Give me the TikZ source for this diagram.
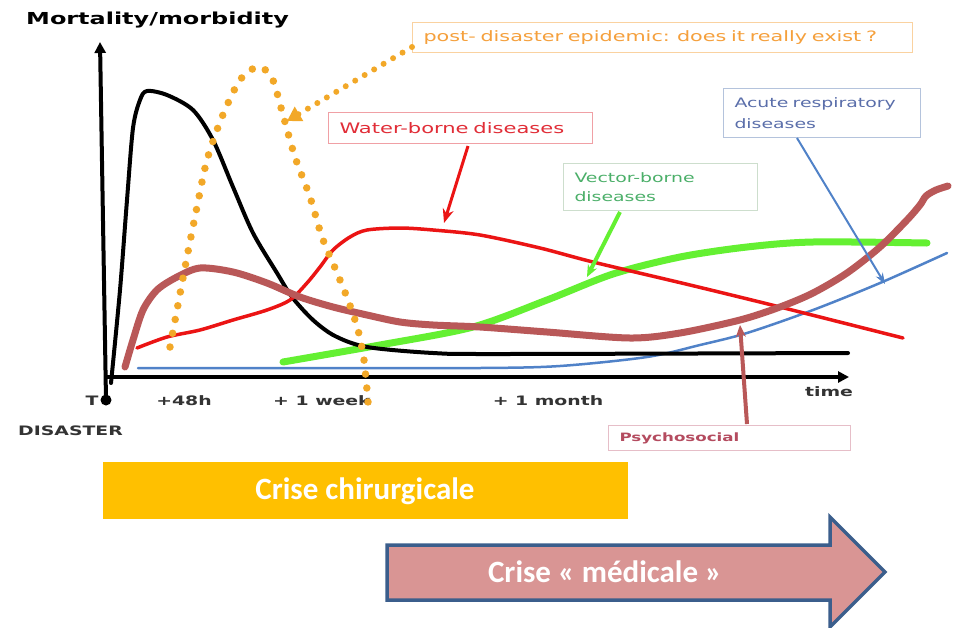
\documentclass[tikz,border=0pt]{standalone}
\usepackage{fontspec}
\newfontfamily\labfont[FakeStretch=1.45]{DejaVu Sans}
\newfontfamily\crisefont{Carlito}
\usetikzlibrary{arrows.meta}
\definecolor{orangeD}{RGB}{242,168,40}
\definecolor{orangeT}{RGB}{245,160,60}
\definecolor{orangeB}{RGB}{250,210,160}
\definecolor{redC}{RGB}{235,20,20}
\definecolor{redT}{RGB}{225,45,55}
\definecolor{redB}{RGB}{240,160,165}
\definecolor{brownC}{RGB}{185,88,88}
\definecolor{greenC}{RGB}{100,240,50}
\definecolor{greenT}{RGB}{75,175,105}
\definecolor{greenB}{RGB}{205,222,205}
\definecolor{blueC}{RGB}{80,130,200}
\definecolor{blueT}{RGB}{90,110,170}
\definecolor{blueB}{RGB}{180,195,220}
\definecolor{psychT}{RGB}{180,75,95}
\definecolor{psychB}{RGB}{230,190,200}
\definecolor{crisY}{RGB}{255,192,0}
\definecolor{arrowF}{RGB}{217,149,148}
\definecolor{arrowB}{RGB}{59,94,140}
\begin{document}
\begin{tikzpicture}[x=1pt,y=-1pt,
  labelbox/.style={draw, line width=1pt, anchor=north west, inner xsep=11pt, inner ysep=0pt, align=left},
  axlab/.style={font=\labfont\bfseries\fontsize{13}{15}\selectfont, text=black!80, inner sep=0pt},
  curve/.style={line cap=round, line join=round},
  crisetext/.style={font=\crisefont\bfseries\fontsize{31}{36}\selectfont, text=white, inner sep=0pt}
]
\useasboundingbox (0,0) rectangle (955,627);
\fill[white] (0,0) rectangle (955,627);

% title of y axis
\node[font=\labfont\bfseries\fontsize{16.5}{19}\selectfont, anchor=west, inner sep=0pt] (ytitle) at (26,20) {Mortality/morbidity};

% axes
\coordinate (yb) at (106,400);
\coordinate (yt) at (100,42);
\coordinate (xl) at (106,377);
\coordinate (xr) at (849,377);
\draw[line width=4pt, -{Triangle[length=11pt,width=11pt]}] (yb) -- (yt);
\fill (yb) circle (5.5pt);
\draw[line width=3.5pt, -{Triangle[length=11pt,width=11pt]}] (xl) -- (xr);

% axis labels
\node[axlab] (t0) at (92,401) {T};
\node[axlab, anchor=west] (dis) at (18,431) {DISASTER};
\node[axlab] (h48) at (184,401) {+48h};
\node[axlab] (wk) at (322,401) {+ 1 week};
\node[axlab] (mo) at (548,401) {+ 1 month};
\node[axlab] (time) at (829,392) {time};

% curves
\draw[curve, blueC, line width=2.5pt] plot[smooth, tension=0.5] coordinates {(138,368) (300,368) (480,368) (560,366) (647,357) (700,345) (747,333) (813,310) (880,283) (947,253)};
\draw[curve, greenC, line width=7pt] plot[smooth, tension=0.5] coordinates {(283,362) (380,345) (473,327) (547,300) (613,274) (680,257) (747,247) (813,242) (927,243)};
\draw[curve, black, line width=4pt] plot[smooth, tension=0.5] coordinates {(111,383) (120,290) (127,200) (133,128) (140,100) (147,91) (167,95) (193,110) (213,140) (233,187) (253,233) (277,273) (292,297) (313,320) (335,336) (367,347) (433,353) (500,354) (848,353)};
\draw[curve, redC, line width=3.5pt] plot[smooth, tension=0.5] coordinates {(137,348) (167,337) (200,330) (233,320) (267,310) (290,300) (307,283) (320,267) (333,250) (350,237) (367,230) (400,228) (433,230) (480,235) (540,248) (593,262) (690,285) (780,307) (903,338)};
\draw[curve, brownC, line width=7pt] plot[smooth, tension=0.5] coordinates {(125,367) (133,340) (143,310) (157,290) (177,277) (200,268) (233,272) (267,283) (300,297) (333,307) (367,315) (400,322) (433,325) (480,327) (547,332) (630,338) (680,333) (740,320) (780,307) (813,293) (847,273) (880,247) (907,220) (920,205) (926,196) (936,190) (948,186)};
\draw[curve, orangeD, line width=7.5pt, dash pattern=on 0pt off 14pt] plot[smooth, tension=0.5] coordinates {(170,347) (177,310) (187,257) (197,207) (207,160) (222,117) (240,80) (258,67) (272,78) (283,115) (295,157) (310,197) (322,237) (335,268) (348,300) (358,330) (364,360) (368,402)};

% label boxes
\node[labelbox, draw=orangeB, text=orangeT, text width=478pt, minimum height=30pt, font=\labfont\fontsize{14.3}{18}\selectfont] (epi) at (412,22) {post- disaster epidemic: does it really exist ?};
\node[labelbox, draw=redB, text=redT, text width=242pt, minimum height=31pt, font=\labfont\fontsize{14.5}{18}\selectfont] (wb) at (328,112) {Water-borne diseases};
\node[labelbox, draw=greenB, text=greenT, text width=172pt, minimum height=47pt, font=\labfont\fontsize{13}{19.5}\selectfont] (vb) at (563,163) {Vector-borne\\diseases};
\node[labelbox, draw=blueB, text=blueT, text width=175pt, minimum height=49pt, font=\labfont\fontsize{13}{20.5}\selectfont] (ard) at (723,88) {Acute respiratory\\diseases};
\node[labelbox, draw=psychB, text=psychT, text width=220pt, minimum height=25pt, font=\labfont\bfseries\fontsize{11.5}{14}\selectfont] (psy) at (608,425) {Psychosocial};

% connectors
\coordinate (epiS) at (412,47);
\coordinate (epiE) at (287,121);
\coordinate (wbS) at (468,146);
\coordinate (wbE) at (444,223);
\coordinate (vbS) at (620,212);
\coordinate (vbE) at (587,277);
\coordinate (ardS) at (797,138);
\coordinate (ardE) at (885,284);
\coordinate (psyS) at (747,424);
\coordinate (psyE) at (740,325);
\draw[orangeD, line width=6pt, dash pattern=on 0pt off 11pt, line cap=round, -{Triangle[length=14pt,width=16pt]}] (epiS) -- (epiE);
\draw[redC, line width=3pt, -{Stealth[length=14pt,width=11pt]}] (wbS) -- (wbE);
\draw[greenC, line width=4pt, -{Stealth[length=12pt,width=10pt]}] (vbS) -- (vbE);
\draw[blueC, line width=2pt, -{Stealth[length=11pt,width=8pt]}] (ardS) -- (ardE);
\draw[brownC, line width=4pt, -{Stealth[length=12pt,width=10pt]}] (psyS) -- (psyE);

% bottom crises
\fill[crisY] (103,462) rectangle (628,519);
\node[crisetext] (chir) at (365,491) {Crise chirurgicale};
\draw[fill=arrowF, draw=arrowB, line width=3.5pt, line join=miter] (387,545) -- (830,545) -- (830,517) -- (885,572) -- (830,627) -- (830,600) -- (387,600) -- cycle;
\node[crisetext] (med) at (605,572) {Crise « médicale »};
\end{tikzpicture}
\end{document}
